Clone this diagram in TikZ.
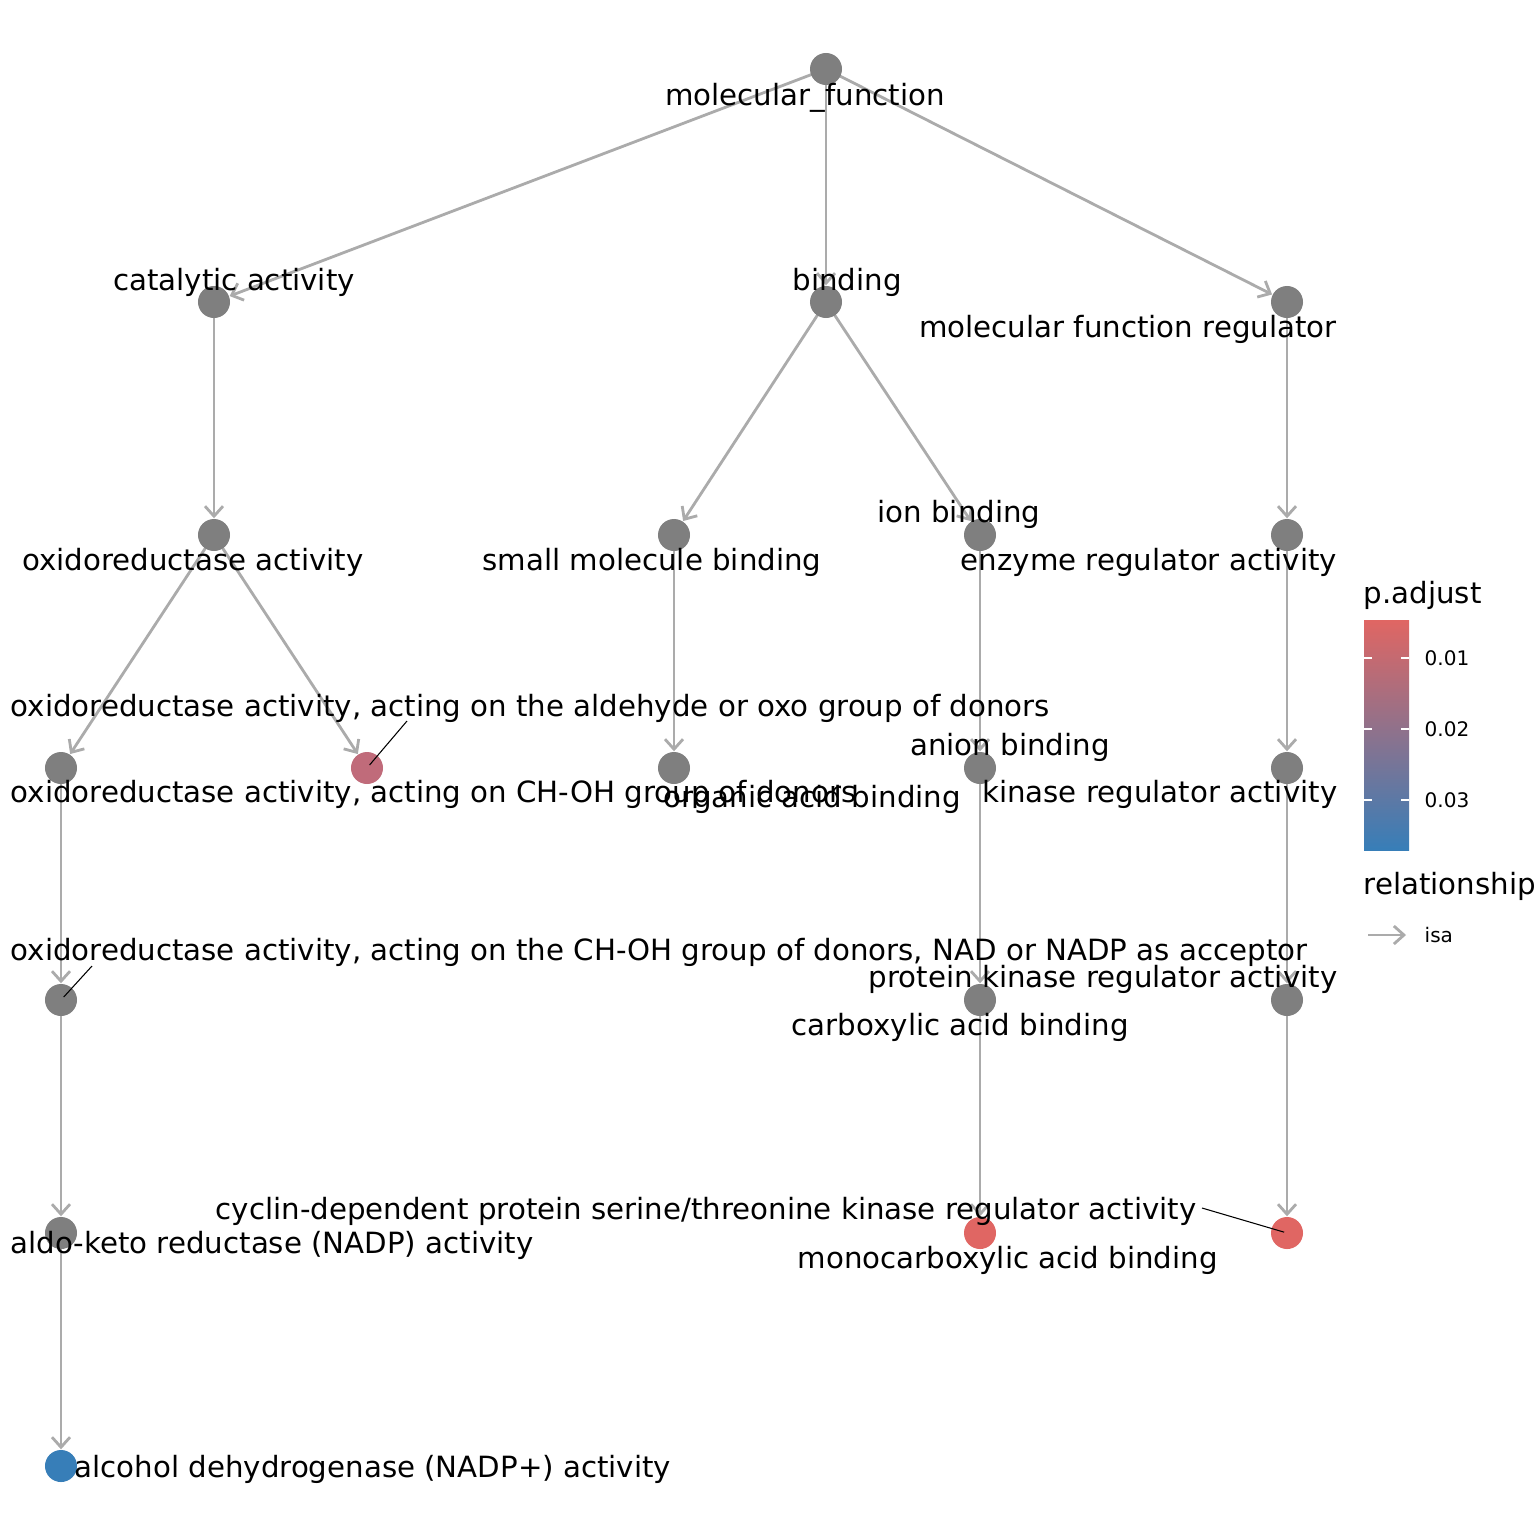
\documentclass[tikz,border=0pt]{standalone}
\usepackage{fontspec}
\setmainfont{DejaVu Sans}
\usetikzlibrary{arrows.meta,backgrounds}
\definecolor{termgray}{HTML}{7F7F7F}
\definecolor{edgegray}{HTML}{ABABAB}
\definecolor{sigred}{HTML}{E06663}
\definecolor{sigmid}{HTML}{C06B7A}
\definecolor{sigblue}{HTML}{377EB8}
\tikzset{go/.style={circle, fill=termgray, inner sep=0pt, minimum size=0.32cm},
  isa/.style={draw=edgegray, line width=0.8pt, -{Straight Barb[length=0.1cm,width=0.18cm]}},
  lab/.style={font=\fontsize{8.32}{10}\selectfont, inner sep=0pt, anchor=base},
  tick/.style={font=\fontsize{5.7}{7}\selectfont, inner sep=0pt, anchor=base west},
  leader/.style={draw=black, line width=0.3pt}}

\begin{document}
\begin{tikzpicture}[x=0.01cm,y=-0.01cm]
  \useasboundingbox (0,0) rectangle (1536,1536);
  % terms
  \node[go] (mf)   at ( 826,  69) {};
  \node[go] (cat)  at ( 214, 302) {};
  \node[go] (bnd)  at ( 826, 302) {};
  \node[go] (mfr)  at (1287, 302) {};
  \node[go] (ox)   at ( 214, 535) {};
  \node[go] (smb)  at ( 674, 535) {};
  \node[go] (ion)  at ( 980, 535) {};
  \node[go] (enz)  at (1287, 535) {};
  \node[go] (oxch) at (  61, 768) {};
  \node[go,fill=sigmid] (oxal) at ( 367, 768) {};
  \node[go] (oab)  at ( 674, 768) {};
  \node[go] (anb)  at ( 980, 768) {};
  \node[go] (kin)  at (1287, 768) {};
  \node[go] (nad)  at (  61,1000) {};
  \node[go] (cab)  at ( 980,1000) {};
  \node[go] (pkr)  at (1287,1000) {};
  \node[go] (akr)  at (  61,1233) {};
  \node[go,fill=sigred] (mcab) at ( 980,1233) {};
  \node[go,fill=sigred] (cdk)  at (1287,1233) {};
  \node[go,fill=sigblue] (adh) at (  61,1466) {};
  % is_a edges
  \begin{scope}[on background layer]
   \draw[isa] (mf.center) -- (cat);
   \draw[isa] (mf.center) -- (bnd);
   \draw[isa] (mf.center) -- (mfr);
   \draw[isa] (cat.center) -- (ox);
   \draw[isa] (bnd.center) -- (smb);
   \draw[isa] (bnd.center) -- (ion);
   \draw[isa] (mfr.center) -- (enz);
   \draw[isa] (ox.center) -- (oxch);
   \draw[isa] (ox.center) -- (oxal);
   \draw[isa] (smb.center) -- (oab);
   \draw[isa] (ion.center) -- (anb);
   \draw[isa] (enz.center) -- (kin);
   \draw[isa] (oxch.center) -- (nad);
   \draw[isa] (anb.center) -- (cab);
   \draw[isa] (kin.center) -- (pkr);
   \draw[isa] (nad.center) -- (akr);
   \draw[isa] (cab.center) -- (mcab);
   \draw[isa] (pkr.center) -- (cdk);
   \draw[isa] (akr.center) -- (adh);
  \end{scope}
  % leader lines
  \coordinate (l1) at (407, 721);
  \coordinate (l2) at ( 92, 966);
  \coordinate (l3) at (1202,1208);
  \draw[leader,shorten >=0.04cm] (l1) -- (oxal.center);
  \draw[leader,shorten >=0.04cm] (l2) -- (nad.center);
  \draw[leader,shorten >=0.03cm] (l3) -- (cdk.center);
  % labels
  \node[lab] (tmf)   at ( 805, 105) {molecular\_function};
  \node[lab] (tcat)  at ( 234, 290) {catalytic activity};
  \node[lab] (tbnd)  at ( 847, 290) {binding};
  \node[lab] (tmfr)  at (1128, 337) {molecular function regulator};
  \node[lab] (tox)   at ( 193, 570) {oxidoreductase activity};
  \node[lab] (tsmb)  at ( 652, 570) {small molecule binding};
  \node[lab] (tion)  at ( 959, 522) {ion binding};
  \node[lab] (tenz)  at (1149, 570) {enzyme regulator activity};
  \node[lab,anchor=base west] (toxal) at (10, 716) {oxidoreductase activity, acting on the aldehyde or oxo group of donors};
  \node[lab,anchor=base west] (toxch) at (10, 802) {oxidoreductase activity, acting on CH-OH group of donors};
  \node[lab,anchor=base west] (toab)  at (663, 807) {organic acid binding};
  \node[lab] (tanb)  at (1010, 755) {anion binding};
  \node[lab,anchor=base east] (tkin)  at (1338, 802) {kinase regulator activity};
  \node[lab,anchor=base west] (tnad)  at (10, 960) {oxidoreductase activity, acting on the CH-OH group of donors, NAD or NADP as acceptor};
  \node[lab,anchor=base east] (tpkr)  at (1338, 987) {protein kinase regulator activity};
  \node[lab,anchor=base west] (tcab)  at (791,1035) {carboxylic acid binding};
  \node[lab,anchor=base east] (tcdk)  at (1197,1219) {cyclin-dependent protein serine/threonine kinase regulator activity};
  \node[lab,anchor=base west] (tmcab) at (797,1268) {monocarboxylic acid binding};
  \node[lab,anchor=base west] (takr)  at (10,1253) {aldo-keto reductase (NADP) activity};
  \node[lab,anchor=base west] (tadh)  at (74,1477) {alcohol dehydrogenase (NADP+) activity};
  % legend
  \node[lab,anchor=base west] (padj) at (1363, 603) {p.adjust};
  \shade[top color=sigred, middle color=sigmid!70!sigblue, bottom color=sigblue] (1364,620) rectangle (1409,850);
  \foreach \y/\t in {658/0.01, 729/0.02, 800/0.03} {
    \draw[white, line width=0.3pt] (1364,\y) -- (1372,\y) (1401,\y) -- (1409,\y);
    \node[tick] at (1424,\y+7) {\t};
  }
  \node[lab,anchor=base west] (rel) at (1363, 894) {relationship};
  \coordinate (k1) at (1368, 935);
  \coordinate (k2) at (1406, 935);
  \draw[isa] (k1) -- (k2);
  \node[tick] (kisa) at (1424, 942) {isa};
\end{tikzpicture}
\end{document}
